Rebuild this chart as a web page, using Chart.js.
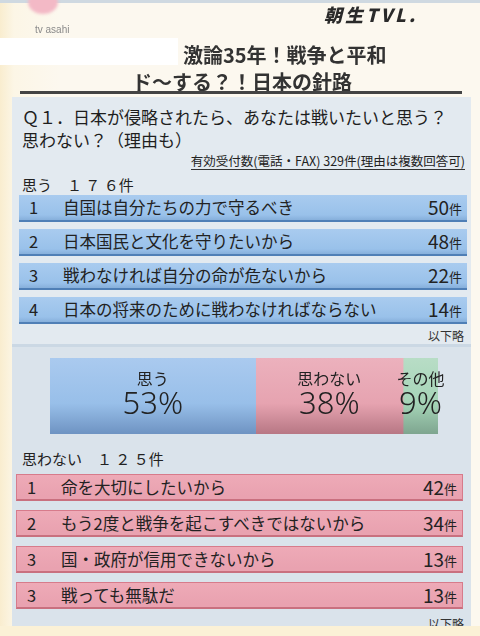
<!DOCTYPE html>
<html lang="ja">
<head>
<meta charset="utf-8">
<script src="https://cdn.jsdelivr.net/npm/chart.js@4/dist/chart.umd.min.js"></script>
<style>
  html, body { margin: 0; padding: 0; }
  body {
    width: 480px; height: 636px; position: relative; overflow: hidden;
    background: linear-gradient(90deg, #f9edcf 0px, #fcf6e6 14px, #fcf8ef 60px);
    font-family: "Noto Sans CJK JP", "Noto Sans", sans-serif; color: #222;
  }
  .abs { position: absolute; }
  #topline { left: 0; top: 0; width: 480px; height: 3px; background: #cfd9e1; }
  #blob { left: 28px; top: -10px; width: 30px; height: 24px; border-radius: 50%; background: #f3b9c6; filter: blur(1.5px); }
  #tvasahi { left: 35px; top: 24px; font: 10px "Liberation Sans", sans-serif; color: #8a8a8a; filter: blur(0.6px); }
  #logo { left: 324px; top: 3px; font: italic 900 18px "Noto Sans CJK JP", sans-serif; line-height: 22px; color: #2a2a2a; filter: blur(0.7px); letter-spacing: 3px; }
  #mask { left: 0; top: 38px; width: 178px; height: 27px; background: #fff; }
  .title { font-weight: 700; color: #333; filter: blur(0.5px); white-space: nowrap; }
  #t1 { left: 183px; top: 40px; font-size: 20px; }
  #t2 { left: 132px; top: 67px; font-size: 20px; }
  #rule { left: 20px; top: 91px; width: 442px; height: 3px; background: #444; filter: blur(0.6px); }
  #panel { left: 12px; top: 97px; width: 459px; height: 529px; background: #e3eaf0; }
  #panel2 { left: 12px; top: 344px; width: 459px; height: 282px; background: #dae3eb; border-top: 3px solid #cbd8e4; }
  #q1, #q2 { left: 22px; font-size: 17px; white-space: nowrap; color: #1e1e1e; }
  #q1 { top: 104px; }
  #q2 { top: 127px; }
  #note { right: 15px; top: 153px; font-size: 12.5px; border-bottom: 1px solid #333; line-height: 16px; white-space: nowrap; }
  .head { left: 22px; font-size: 15px; white-space: nowrap; }
  #yesHead { top: 174px; }
  #noHead { top: 448px; }
  .row { position: absolute; height: 27px; box-sizing: border-box; font-size: 16.5px; line-height: 27px; white-space: nowrap; }
  .row .rank { position: absolute; left: 10px; top: -1px; }
  .row .txt { position: absolute; left: 44px; top: -1px; }
  .row .cnt { position: absolute; right: 5px; top: -2px; font-size: 19px; }
  .row .cnt small { font-size: 13px; position: relative; top: -1px; }
  .blue { left: 19px; width: 448px; background: linear-gradient(180deg, #a9cbef 0%, #99c1ea 80%, #86afdb 100%); border-bottom: 2px solid #4f7fb6; }
  .pink { left: 16px; width: 447px; background: linear-gradient(180deg, #eeaab7 0%, #e9a2b0 85%); border: 1px solid #d77b8b; border-bottom: 2px solid #c9707f; }
  .omit { font-size: 12px; color: #333; }
  #omit1 { right: 16px; top: 327px; }
  #omit2 { right: 16px; top: 615px; }
  #bottom { left: 0; top: 626px; width: 480px; height: 10px; background: #fbf1d6; }
  #barBox { left: 40px; top: 350px; width: 420px; height: 92px; }
</style>
</head>
<body>
<div class="abs" id="topline"></div>
<div class="abs" id="blob"></div>
<div class="abs" id="tvasahi">tv asahi</div>
<div class="abs" id="logo">朝生TVL.</div>
<div class="abs" id="mask"></div>
<div class="abs title" id="t1">激論35年！戦争と平和</div>
<div class="abs title" id="t2">ド～する？！日本の針路</div>
<div class="abs" id="rule"></div>

<div class="abs" id="panel"></div>
<div class="abs" id="panel2"></div>
<div class="abs" id="q1">Ｑ１．日本が侵略されたら、あなたは戦いたいと思う？</div>
<div class="abs" id="q2">思わない？（理由も）</div>
<div class="abs" id="note"></div>
<div class="abs head" id="yesHead"></div>
<div id="yesRows"></div>
<div class="abs omit" id="omit1">以下略</div>

<div class="abs" id="barBox"><canvas id="shareChart"></canvas></div>

<div class="abs head" id="noHead"></div>
<div id="noRows"></div>
<div class="abs omit" id="omit2">以下略</div>
<div class="abs" id="bottom"></div>

<script>
// totals
const totalValid = 329;
const totalYes = 176;
const totalNo = 125;

// share of answers (%)
const shareLabels = ['思う', '思わない', 'その他'];
const shareValues = [53, 38, 9];

// reasons: think so
const yesRanks = [1, 2, 3, 4];
const yesReasons = ['自国は自分たちの力で守るべき', '日本国民と文化を守りたいから', '戦わなければ自分の命が危ないから', '日本の将来のために戦わなければならない'];
const yesCounts = [50, 48, 22, 14];

// reasons: don't think so
const noRanks = [1, 2, 3, 3];
const noReasons = ['命を大切にしたいから', 'もう2度と戦争を起こすべきではないから', '国・政府が信用できないから', '戦っても無駄だ'];
const noCounts = [42, 34, 13, 13];

function wide(n) {
    return String(n).replace(/[0-9]/g, d => String.fromCharCode(d.charCodeAt(0) + 0xFEE0)).split('').join(' ');
}

document.getElementById('note').textContent = '有効受付数(電話・FAX) ' + totalValid + '件(理由は複数回答可)';
document.getElementById('yesHead').textContent = '思う　' + wide(totalYes) + '件';
document.getElementById('noHead').textContent = '思わない　' + wide(totalNo) + '件';

function buildRows(holderId, ranks, reasons, counts, cls, top, step) {
    const holder = document.getElementById(holderId);
    reasons.forEach((r, i) => {
        const row = document.createElement('div');
        row.className = 'row ' + cls;
        row.style.top = (top + i * step) + 'px';
        row.innerHTML = '<span class="rank">' + ranks[i] + '</span><span class="txt">' + r +
            '</span><span class="cnt">' + counts[i] + '<small>件</small></span>';
        holder.appendChild(row);
    });
}

buildRows('yesRows', yesRanks, yesReasons, yesCounts, 'blue', 195, 34);
buildRows('noRows', noRanks, noReasons, noCounts, 'pink', 474, 36);

// tube-like shading for the share bar
function tubeFill(top, mid, bottom) {
    return function (ctx) {
        const area = ctx.chart.chartArea;
        if (!area) return mid;
        const g = ctx.chart.ctx.createLinearGradient(0, area.top, 0, area.bottom);
        g.addColorStop(0, top);
        g.addColorStop(0.6, mid);
        g.addColorStop(1, bottom);
        return g;
    };
}

const fills = [
    tubeFill('#aacaef', '#98bfe9', '#6e93c2'),
    tubeFill('#ecb1bd', '#e6a3b0', '#b77784'),
    tubeFill('#b8ddc6', '#a5d4b7', '#7ea58f')
];

const shareText = {
    id: 'shareText',
    afterDatasetsDraw(chart) {
        const c = chart.ctx;
        const area = chart.chartArea;
        c.save();
        c.fillStyle = '#222';
        c.textAlign = 'center';
        c.textBaseline = 'middle';
        chart.data.datasets.forEach((ds, i) => {
            const el = chart.getDatasetMeta(i).data[0];
            const cx = (el.base + el.x) / 2;
            c.font = '16px "Noto Sans CJK JP", sans-serif';
            c.fillText(shareLabels[i], cx, area.top + 21);
            c.font = '300 31px "Noto Sans", sans-serif';
            c.fillText(ds.data[0] + '%', cx, area.top + 47);
        });
        c.restore();
    }
};

new Chart(document.getElementById('shareChart'), {
    type: 'bar',
    data: {
        labels: ['Q1'],
        datasets: shareLabels.map((l, i) => ({
            label: l,
            data: [shareValues[i]],
            backgroundColor: fills[i],
            borderWidth: 0,
            barPercentage: 1,
            categoryPercentage: 1
        }))
    },
    options: {
        indexAxis: 'y',
        responsive: true,
        maintainAspectRatio: false,
        animation: false,
        layout: { padding: { left: 10, right: 22, top: 8, bottom: 8 } },
        plugins: { legend: { display: false }, tooltip: { enabled: false } },
        scales: {
            x: { stacked: true, min: 0, max: 100, display: false },
            y: { stacked: true, display: false }
        }
    },
    plugins: [shareText]
});
</script>
</body>
</html>
